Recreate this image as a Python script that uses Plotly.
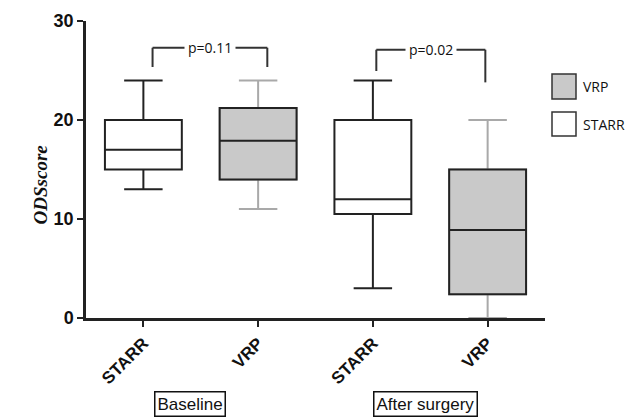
import plotly.graph_objects as go

# ---- data ----
tick_labels = ["STARR", "VRP", "STARR", "VRP"]
groups = ["STARR", "VRP", "STARR", "VRP"]
lower = [13, 11, 3, 0]
q1 = [15, 14, 10.5, 2.4]
median = [17, 17.9, 12, 8.9]
q3 = [20, 21.2, 20, 15]
upper = [24, 24, 24, 20]
period_labels = ["Baseline", "After surgery"]
p_values = ["p=0.11", "p=0.02"]
legend_names = ["VRP", "STARR"]

fill = {"VRP": "#c9c9c9", "STARR": "#ffffff"}
whisk = {"VRP": "#a9a9a9", "STARR": "#222222"}
edge = "#222222"

fig = go.Figure()
pos = list(range(len(tick_labels)))
for i, g in enumerate(groups):
    fig.add_trace(go.Box(
        x=[pos[i]], q1=[q1[i]], median=[median[i]], q3=[q3[i]],
        lowerfence=[lower[i]], upperfence=[upper[i]],
        fillcolor=fill[g], line=dict(color=whisk[g], width=2),
        width=0.67, whiskerwidth=0.5, showlegend=False, hoverinfo="skip"))
    if g == "VRP":
        fig.add_trace(go.Box(
            x=[pos[i]], q1=[q1[i]], median=[median[i]], q3=[q3[i]],
            lowerfence=[q1[i]], upperfence=[q3[i]],
            fillcolor=fill[g], line=dict(color=edge, width=2),
            width=0.67, whiskerwidth=0.0, showlegend=False, hoverinfo="skip"))

shapes = []
annotations = []
brackets = [
    (pos[0] + 0.08, pos[1] + 0.08, 27.3, 25.35, 25.35, p_values[0]),
    (pos[2] + 0.03, pos[3] - 0.02, 27.1, 24.95, 23.8, p_values[1]),
]
for x0, x1, ytop, yl, yr, txt in brackets:
    lc = "#333333"
    shapes.append(dict(type="line", x0=x0, x1=x0, y0=yl, y1=ytop, line=dict(color=lc, width=2)))
    shapes.append(dict(type="line", x0=x1, x1=x1, y0=yr, y1=ytop, line=dict(color=lc, width=2)))
    shapes.append(dict(type="line", x0=x0, x1=x1, y0=ytop, y1=ytop, line=dict(color=lc, width=2)))
    annotations.append(dict(x=(x0 + x1) / 2, y=ytop, text=txt, showarrow=False,
                            bgcolor="white", font=dict(family="Open Sans", size=14, color="#111"),
                            xanchor="center", yanchor="middle", borderpad=3))

for x, txt in zip([0.41, 2.46], period_labels):
    annotations.append(dict(x=x, y=-0.29, xref="x", yref="paper", text=txt, showarrow=False,
                            xanchor="center", yanchor="middle",
                            font=dict(family="Liberation Sans", size=17, color="#111"),
                            bordercolor="#111", borderwidth=1.5, borderpad=2, bgcolor="white"))

leg_y = [(74, 99), (112, 136)]
for name, (ya, yb) in zip(legend_names, leg_y):
    y0 = (318 - yb) / 297
    y1 = (318 - ya) / 297
    shapes.append(dict(type="rect", xref="paper", yref="paper",
                       x0=(552 - 86) / 459, x1=(576 - 86) / 459, y0=y0, y1=y1,
                       fillcolor=fill[name], line=dict(color="#333", width=1.5)))
    annotations.append(dict(xref="paper", yref="paper", x=(581 - 86) / 459, y=(y0 + y1) / 2,
                            text=name, showarrow=False, xanchor="left", yanchor="middle",
                            font=dict(family="Open Sans", size=14, color="#111")))

annotations.append(dict(xref="paper", yref="paper", x=-0.1, y=0.45, textangle=-90,
                        text="<b><i>ODSscore</i></b>", xanchor="center", yanchor="middle",
                        showarrow=False, font=dict(family="Liberation Serif", size=19, color="#111")))

fig.update_layout(
    width=625, height=411,
    margin=dict(l=78, r=88, t=13, b=101, autoexpand=False),
    plot_bgcolor="white", paper_bgcolor="white",
    shapes=shapes, annotations=annotations, showlegend=False,
    xaxis=dict(range=[-0.5, 3.5], tickvals=pos, ticktext=tick_labels, tickangle=-45,
               showline=True, linecolor="#222", linewidth=2.5, ticks="outside",
               ticklen=6, tickwidth=2, tickcolor="#222", showgrid=False, zeroline=False,
               layer="below traces", automargin=False,
               tickfont=dict(family="Liberation Sans", size=17, color="#111", weight="bold")),
    yaxis=dict(range=[0, 30], tickvals=[0, 10, 20, 30], showline=True, linecolor="#222",
               linewidth=2.5, ticks="outside", ticklen=6, tickwidth=2, tickcolor="#222",
               showgrid=False, zeroline=False, automargin=False,
               tickfont=dict(family="Liberation Sans", size=18, color="#111", weight="bold")),
)

fig.write_html("out.html")
